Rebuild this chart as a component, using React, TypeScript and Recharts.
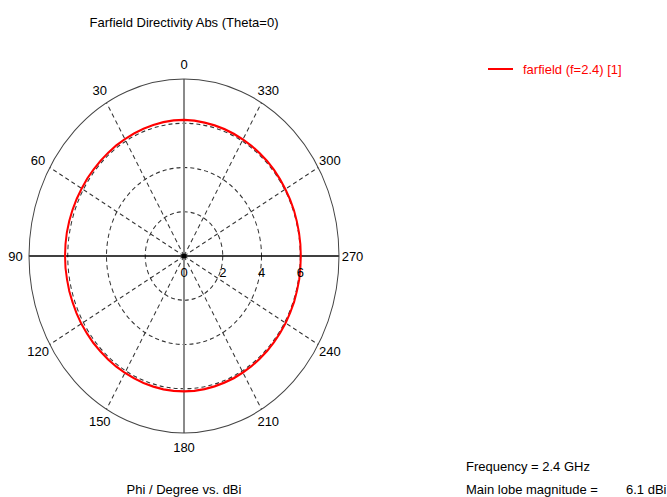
import React from "react";
import { RadarChart, Radar, PolarGrid, PolarAngleAxis, PolarRadiusAxis } from "recharts";

// phi in degrees, directivity in dBi
const PHI = [
  0, 5, 10, 15, 20, 25, 30, 35, 40, 45, 50, 55, 60, 65, 70, 75, 80, 85,
  90, 95, 100, 105, 110, 115, 120, 125, 130, 135, 140, 145, 150, 155, 160, 165, 170, 175,
  180, 185, 190, 195, 200, 205, 210, 215, 220, 225, 230, 235, 240, 245, 250, 255, 260, 265,
  270, 275, 280, 285, 290, 295, 300, 305, 310, 315, 320, 325, 330, 335, 340, 345, 350, 355,
];
const DBI = [
  6.15, 6.15, 6.14, 6.13, 6.12, 6.11, 6.1, 6.1, 6.09, 6.09, 6.09, 6.1, 6.1, 6.11, 6.12, 6.13, 6.14, 6.14,
  6.14, 6.14, 6.13, 6.13, 6.12, 6.12, 6.12, 6.11, 6.11, 6.1, 6.1, 6.1, 6.1, 6.1, 6.11, 6.11, 6.12, 6.12,
  6.12, 6.12, 6.11, 6.1, 6.09, 6.09, 6.08, 6.08, 6.07, 6.07, 6.06, 6.06, 6.06, 6.05, 6.05, 6.04, 6.04, 6.03,
  6.03, 6.03, 6.03, 6.03, 6.04, 6.04, 6.04, 6.05, 6.06, 6.07, 6.07, 6.08, 6.08, 6.09, 6.1, 6.11, 6.12, 6.14,
];
const ANGLE_LABELS = [0, 30, 60, 90, 120, 150, 180, 210, 240, 270, 300, 330];
const RADIUS_TICKS = [0, 2, 4, 6];
const RADIUS_MAX = 8;

// the chart runs clockwise, phi runs counter-clockwise: 0, 355, 350, ... 5
const data = PHI.map((_, i) => {
  const k = (PHI.length - i) % PHI.length;
  return { phi: PHI[k], dbi: DBI[k] };
});

const FONT = "'Liberation Sans', Arial, sans-serif";
const SIZE = 380;
const CX = SIZE / 2;
const CY = SIZE / 2;
const R = 155;
const SY = 177 / 155; // vertical stretch of the plot

const dashedAngles = ANGLE_LABELS.filter((a) => a % 90 !== 0).map((a) => 90 + a);

const AngleTick = (props: any) => {
  const v = props.payload?.value;
  if (!ANGLE_LABELS.includes(v)) return <g />;
  const a = (props.payload.coordinate * Math.PI) / 180;
  const x = CX + (R + 13.5) * Math.cos(a);
  const y = CY - (R + 12.5) * Math.sin(a);
  return (
    <g transform={`translate(${x} ${y}) scale(1 ${1 / SY})`}>
      <text x={0} y={0} textAnchor="middle" dominantBaseline="central" fontSize={13} fontFamily={FONT} fill="#000">
        {v}
      </text>
    </g>
  );
};

const RadiusTick = (props: any) => {
  const { x, y, payload } = props;
  return (
    <g transform={`translate(${x} ${y}) scale(1 ${1 / SY})`}>
      {payload.value === 0 && <circle cx={0} cy={0} r={2.5} fill="#000" />}
      <text x={0} y={16} textAnchor="middle" dominantBaseline="central" fontSize={13} fontFamily={FONT} fill="#000">
        {payload.value}
      </text>
    </g>
  );
};

export default function App() {
  return (
    <div style={{ position: "absolute", left: 0, top: 0, width: 667, height: 497, background: "#fff", fontFamily: FONT }}>
      <svg width={667} height={497} style={{ position: "absolute", left: 0, top: 0 }}>
        <text x={184} y={22} textAnchor="middle" dominantBaseline="central" fontSize={13} fill="#000">
          Farfield Directivity Abs (Theta=0)
        </text>
        <line x1={488} x2={513} y1={69} y2={69} stroke="#ff0000" strokeWidth={2} />
        <text x={523} y={69} dominantBaseline="central" fontSize={13} fill="#ff0000">
          farfield (f=2.4) [1]
        </text>
        <text x={184} y={489} textAnchor="middle" dominantBaseline="central" fontSize={13} fill="#000">
          Phi / Degree vs. dBi
        </text>
        <text x={466} y={466} dominantBaseline="central" fontSize={13} fill="#000">
          Frequency = 2.4 GHz
        </text>
        <text x={466} y={489} dominantBaseline="central" fontSize={13} fill="#000">
          Main lobe magnitude =
        </text>
        <text x={626} y={489} dominantBaseline="central" fontSize={13} fill="#000">
          6.1 dBi
        </text>
      </svg>
      <div
        style={{
          position: "absolute",
          left: 184 - CX,
          top: 256 - CY,
          width: SIZE,
          height: SIZE,
          transform: `scaleY(${SY})`,
          transformOrigin: "center center",
        }}
      >
        <RadarChart
          width={SIZE}
          height={SIZE}
          data={data}
          cx={CX}
          cy={CY}
          outerRadius={R}
          margin={{ top: 0, right: 0, bottom: 0, left: 0 }}
        >
          <PolarGrid gridType="circle" polarAngles={dashedAngles} stroke="#333" strokeDasharray="4 3" />
          <PolarGrid gridType="circle" polarAngles={[90, 270]} polarRadius={[]} stroke="#8a8a8a" strokeWidth={2} />
          <PolarGrid gridType="circle" polarAngles={[0, 180]} polarRadius={[]} stroke="#000" strokeWidth={1.5} />
          <PolarAngleAxis
            dataKey="phi"
            axisLineType="circle"
            axisLine={{ stroke: "#444", strokeWidth: 1 }}
            tickLine={false}
            tick={AngleTick}
          />
          <PolarRadiusAxis
            type="number"
            angle={0}
            domain={[0, RADIUS_MAX]}
            ticks={RADIUS_TICKS}
            axisLine={false}
            tickLine={false}
            tick={RadiusTick}
          />
          <Radar dataKey="dbi" stroke="#ff0000" strokeWidth={2} fill="none" fillOpacity={0} dot={false} isAnimationActive={false} />
        </RadarChart>
      </div>
    </div>
  );
}
